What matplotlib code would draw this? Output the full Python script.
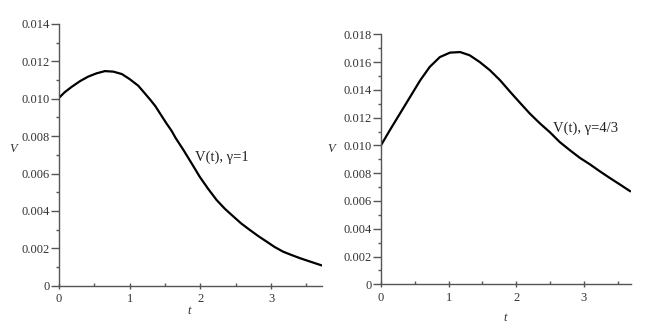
import matplotlib
matplotlib.use("Agg")
import matplotlib.pyplot as plt
from matplotlib.ticker import MultipleLocator

plt.rcParams['font.family'] = ['Liberation Serif', 'DejaVu Serif']

# Left panel: V(t), gamma = 1
t1 = [0.0, 0.08, 0.18, 0.30, 0.41, 0.53, 0.65, 0.77, 0.89, 1.00, 1.12, 1.20, 1.29, 1.36,
      1.44, 1.52, 1.59, 1.65, 1.76, 1.88, 1.99, 2.11, 2.23, 2.35, 2.47, 2.58, 2.70, 2.82,
      2.94, 3.05, 3.17, 3.29, 3.41, 3.56, 3.72]
v1 = [0.01005, 0.01035, 0.01064, 0.01095, 0.01118, 0.01136, 0.01148, 0.01145, 0.01132,
      0.01105, 0.01070, 0.01035, 0.00995, 0.00962, 0.00915, 0.00868, 0.00830, 0.00790,
      0.00726, 0.00652, 0.00583, 0.00518, 0.00458, 0.00410, 0.00369, 0.00332, 0.00298,
      0.00265, 0.00235, 0.00207, 0.00182, 0.00164, 0.00147, 0.00128, 0.00108]

# Right panel: V(t), gamma = 4/3
t2 = [0.0, 0.13, 0.28, 0.43, 0.58, 0.72, 0.87, 1.02, 1.17, 1.31, 1.46, 1.61, 1.76, 1.91,
      2.05, 2.20, 2.35, 2.50, 2.64, 2.79, 2.94, 3.09, 3.23, 3.38, 3.53, 3.68]
v2 = [0.01001, 0.01109, 0.01229, 0.01349, 0.01469, 0.01565, 0.01636, 0.01668, 0.01672,
      0.01649, 0.01600, 0.01541, 0.01469, 0.01385, 0.01309, 0.01229, 0.01158, 0.01093,
      0.01025, 0.00966, 0.00910, 0.00863, 0.00815, 0.00766, 0.00719, 0.00671]

label1 = "V(t), \u03b3=1"
label2 = "V(t), \u03b3=4/3"
xticks = [0, 1, 2, 3]
yticks1 = [0, 0.002, 0.004, 0.006, 0.008, 0.010, 0.012, 0.014]
yticks2 = [0, 0.002, 0.004, 0.006, 0.008, 0.010, 0.012, 0.014, 0.016, 0.018]


def fmt(v):
    return "0" if v == 0 else f"{v:.3f}"


fig = plt.figure(figsize=(6.64, 3.31), dpi=100)
axc = "#555555"
tc = "#333333"


def style(ax, xmax, ymax, yticks):
    ax.set_xlim(0, xmax)
    ax.set_ylim(0, ymax)
    for s in ("top", "right"):
        ax.spines[s].set_visible(False)
    for s in ("left", "bottom"):
        ax.spines[s].set_color(axc)
        ax.spines[s].set_linewidth(1.0)
    ax.set_xticks(xticks)
    ax.set_xticklabels([str(x) for x in xticks])
    ax.set_yticks(yticks)
    ax.set_yticklabels([fmt(v) for v in yticks])
    ax.xaxis.set_minor_locator(MultipleLocator(0.5))
    ax.yaxis.set_minor_locator(MultipleLocator(0.001))
    ax.tick_params(axis='y', which='major', direction='out', length=6, width=1,
                   color=axc, labelsize=9, labelcolor=tc, pad=1)
    ax.tick_params(axis='y', which='minor', direction='out', length=2.5, width=1, color=axc)
    ax.tick_params(axis='x', which='major', direction='inout', length=5, width=1,
                   color=axc, labelsize=9, labelcolor=tc, pad=3)
    ax.tick_params(axis='x', which='minor', direction='in', length=2.5, width=1, color=axc)
    ax.patch.set_alpha(0)


ax1 = fig.add_axes([0.0889, 0.1369, 0.396, 0.7906])
ax1.plot(t1, v1, color="black", lw=1.6, solid_joinstyle="round")
style(ax1, 3.72, 0.014, yticks1)
ax1.text(1.92, 0.00688, label1, fontsize=10.5, color="#222222", va="center", ha="left")
ax1.set_ylabel("V", rotation=0, fontsize=9, style="italic", color=tc)
ax1.yaxis.set_label_coords(-0.175, 0.50)
ax1.set_xlabel("t", fontsize=9, style="italic", color=tc)
ax1.xaxis.set_label_coords(0.494, -0.075)

ax2 = fig.add_axes([0.5738, 0.1411, 0.376, 0.7553])
ax2.plot(t2, v2, color="black", lw=1.6, solid_joinstyle="round")
style(ax2, 3.69, 0.018, yticks2)
ax2.text(2.54, 0.01125, label2, fontsize=10.5, color="#222222", va="center", ha="left")
ax2.set_ylabel("V", rotation=0, fontsize=9, style="italic", color=tc)
ax2.yaxis.set_label_coords(-0.20, 0.517)
ax2.set_xlabel("t", fontsize=9, style="italic", color=tc)
ax2.xaxis.set_label_coords(0.497, -0.11)

fig.savefig("out.png", dpi=100)
